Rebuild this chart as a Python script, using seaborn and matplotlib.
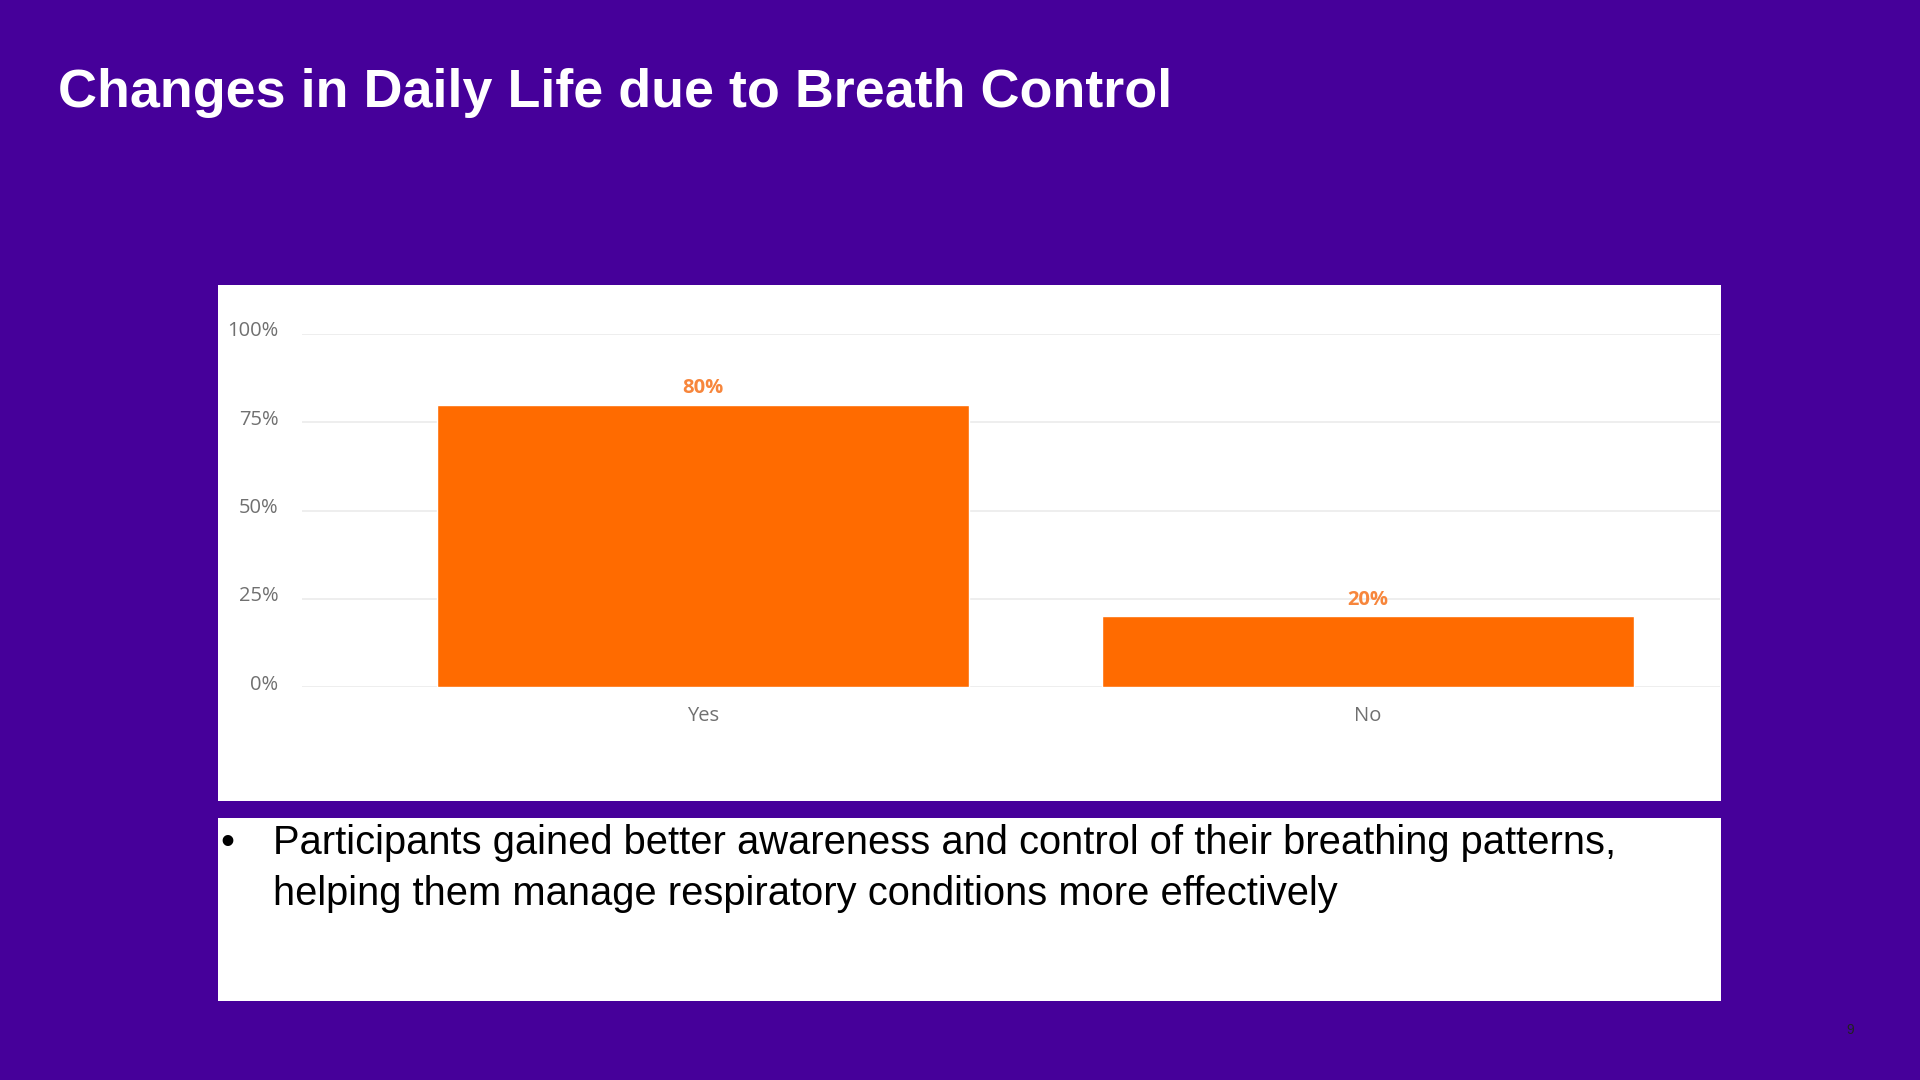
import matplotlib
matplotlib.use("Agg")
import matplotlib.pyplot as plt
import matplotlib.transforms as mtransforms
from matplotlib.patches import Rectangle
import pandas as pd
import seaborn as sns

# chart data
categories = ["Yes", "No"]
shares = [80, 20]
y_ticks = [0, 25, 50, 75, 100]

title = "Changes in Daily Life due to Breath Control"
bullet_lines = [
    "Participants gained better awareness and control of their breathing patterns,",
    "helping them manage respiratory conditions more effectively",
]
page_no = "9"

purple = "#46009A"
orange = "#FF6B00"
label_orange = "#F7863C"
tick_grey = "#707070"

sns.set_style("white")
plt.rcParams["font.family"] = ["Open Sans", "DejaVu Sans"]

df = pd.DataFrame({"answer": categories, "share": shares})

fig = plt.figure(figsize=(19.2, 10.8), dpi=100)
fig.patch.set_facecolor(purple)

# white panels behind the chart and the text
fig.add_artist(Rectangle((218 / 1920, 1 - 801 / 1080), 1503 / 1920, 516 / 1080,
                         transform=fig.transFigure, facecolor="white", edgecolor="none", zorder=0))
fig.add_artist(Rectangle((218 / 1920, 1 - 1001 / 1080), 1503 / 1920, 183 / 1080,
                         transform=fig.transFigure, facecolor="white", edgecolor="none", zorder=0))

ax = fig.add_axes([302 / 1920, 1 - 687 / 1080, 1418 / 1920, 353 / 1080])
ax.set_facecolor("none")
sns.barplot(data=df, x="answer", y="share", color=orange, saturation=1, width=0.8, ax=ax)

ax.set_xlim(-0.603, 1.529)
ax.set_ylim(0, 100)
ax.set_yticks(y_ticks)
ax.set_yticklabels([f"{v}%" for v in y_ticks])
ax.set_xlabel("")
ax.set_ylabel("")
ax.yaxis.grid(True, color="#EBEBEB", linewidth=1.2)
ax.set_axisbelow(True)
for s in ax.spines.values():
    s.set_visible(False)
ax.tick_params(axis="y", length=0, pad=17, labelsize=14.5, labelcolor=tick_grey)
ax.tick_params(axis="x", length=0, pad=14, labelsize=14.5, labelcolor=tick_grey)

# y labels sit a little above their gridlines
shift = mtransforms.ScaledTranslation(0, 5 / 100, fig.dpi_scale_trans)
for lab in ax.get_yticklabels():
    lab.set_transform(lab.get_transform() + shift)

for i, v in enumerate(shares):
    ax.annotate(f"{v}%", (i, v), xytext=(0, 12), textcoords="offset points",
                ha="center", va="center", fontsize=14.5, fontweight="bold",
                color=label_orange)

fig.text(58 / 1920, 1 - 107 / 1080, title, color="white", fontsize=38.8,
         fontweight="bold", family=["Liberation Sans", "DejaVu Sans"], va="baseline")

fig.text(220 / 1920, 1 - 854 / 1080, "\u2022", color="black", fontsize=28.5,
         family=["Liberation Sans", "DejaVu Sans"], va="baseline")
for k, line in enumerate(bullet_lines):
    fig.text(273 / 1920, 1 - (854 + 51 * k) / 1080, line, color="black", fontsize=28.7,
             family=["Liberation Sans", "DejaVu Sans"], va="baseline")

fig.text(1850 / 1920, 1 - 1030 / 1080, page_no, color="#222222", fontsize=10,
         family=["Liberation Sans", "DejaVu Sans"], ha="center", va="center")

fig.savefig("out.png", dpi=100, facecolor=fig.get_facecolor())
